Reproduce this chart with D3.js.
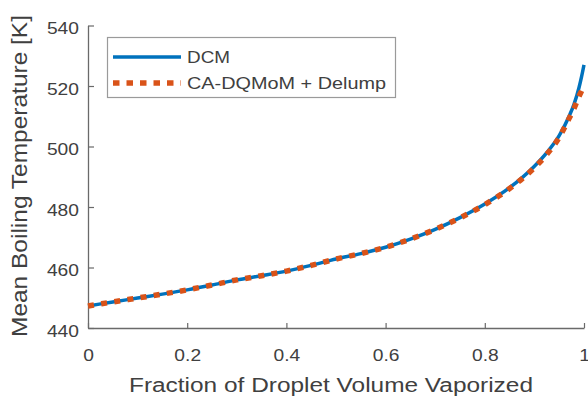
<!DOCTYPE html>
<html>
<head>
<meta charset="utf-8">
<script src="https://cdn.jsdelivr.net/npm/d3@7"></script>
<style>
  html, body { margin: 0; padding: 0; background: #fff; }
  svg { display: block; font-family: Arial, "Liberation Sans", sans-serif; }
</style>
</head>
<body>
<svg id="chart" width="588" height="398"></svg>
<script>
// Fraction of droplet volume vaporized
const fraction = [0, 0.05, 0.1, 0.15, 0.2, 0.25, 0.3, 0.35, 0.4, 0.45, 0.5, 0.55, 0.6, 0.65, 0.7, 0.75, 0.8, 0.85, 0.9, 0.925, 0.95, 0.97, 0.98, 0.99, 0.995, 1.0];
// Mean boiling temperature [K], discrete component model
const dcmTemp = [447.3, 448.6, 449.9, 451.2, 452.6, 454.2, 455.9, 457.3, 458.8, 460.7, 462.8, 464.6, 466.7, 469.4, 472.6, 476.5, 481.0, 486.4, 493.5, 498.0, 503.6, 510.0, 514.0, 519.5, 523.0, 527.0];
// Mean boiling temperature [K], CA-DQMoM with delumping
const dqmomTemp = [447.3, 448.6, 449.9, 451.2, 452.6, 454.2, 455.9, 457.3, 458.8, 460.7, 462.8, 464.6, 466.7, 469.4, 472.6, 476.4, 480.8, 486.1, 493.0, 497.4, 503.0, 509.3, 512.6, 516.6, 518.3, 520.0];

const xTicks = [0, 0.2, 0.4, 0.6, 0.8, 1];
const xTickLabels = ["0", "0.2", "0.4", "0.6", "0.8", "1"];
const yTicks = [440, 460, 480, 500, 520, 540];
const seriesNames = ["DCM", "CA-DQMoM + Delump"];

const svg = d3.select("#chart");
const textColor = "#404040";
const axisColor = "#6a6a6a";
const blue = "#0072BD";
const orange = "#D95319";

const x = d3.scaleLinear().domain([0, 1]).range([88, 584]);
const y = d3.scaleLinear().domain([440, 540]).range([328, 25.5]);

// stretch a text element horizontally by a factor
function widen(sel, k) {
  sel.each(function () {
    const w = this.getComputedTextLength();
    d3.select(this).attr("textLength", w * k).attr("lengthAdjust", "spacingAndGlyphs");
  });
}

// axes (left and bottom only, ticks pointing inward)
const xAxis = d3.axisBottom(x).tickValues(xTicks).tickSizeInner(-5).tickSizeOuter(0)
  .tickFormat((d, i) => xTickLabels[i]).tickPadding(14);
const yAxis = d3.axisLeft(y).tickValues(yTicks).tickSizeInner(-6).tickSizeOuter(0)
  .tickPadding(15);

const gx = svg.append("g").attr("transform", `translate(0,${y(440)})`).call(xAxis);
const gy = svg.append("g").attr("transform", `translate(${x(0)},0)`).call(yAxis);

[gx, gy].forEach(g => {
  g.select(".domain").attr("stroke", axisColor).attr("stroke-width", 1.3);
  g.selectAll(".tick line").attr("stroke", axisColor).attr("stroke-width", 1.2);
  g.selectAll(".tick text").attr("fill", textColor).attr("font-size", 17);
});
gx.selectAll(".tick text").attr("dy", "0.71em").attr("y", 21);
gx.selectAll(".tick text").call(widen, 1.13);
gy.selectAll(".tick text").attr("x", -9).attr("dy", "0.48em");
gy.selectAll(".tick text").call(widen, 1.13);

// axis titles
svg.append("text")
  .attr("x", 331).attr("y", 392)
  .attr("text-anchor", "middle")
  .attr("fill", textColor).attr("font-size", 20)
  .attr("textLength", 404).attr("lengthAdjust", "spacingAndGlyphs")
  .text("Fraction of Droplet Volume Vaporized");

svg.append("text")
  .attr("transform", "translate(27,176) rotate(-90)")
  .attr("text-anchor", "middle")
  .attr("fill", textColor).attr("font-size", 22.5)
  .attr("textLength", 322).attr("lengthAdjust", "spacingAndGlyphs")
  .text("Mean Boiling Temperature [K]");

// curves
const line = d3.line().x((d, i) => x(fraction[i])).y(d => y(d)).curve(d3.curveMonotoneX);

svg.append("path")
  .attr("d", line(dcmTemp))
  .attr("fill", "none").attr("stroke", blue).attr("stroke-width", 3.5);

svg.append("path")
  .attr("d", line(dqmomTemp))
  .attr("fill", "none").attr("stroke", orange).attr("stroke-width", 5.5)
  .attr("stroke-dasharray", "6,7.3");

// legend
const lg = svg.append("g");
lg.append("rect")
  .attr("x", 107.5).attr("y", 37.5).attr("width", 288).attr("height", 60)
  .attr("fill", "#fff").attr("stroke", "#9a9a9a").attr("stroke-width", 1.2);

const rows = [
  { name: seriesNames[0], color: blue, width: 3.5, dash: null, cy: 57, len: 43 },
  { name: seriesNames[1], color: orange, width: 5.5, dash: "6.5,7", cy: 83, len: 199 }
];
rows.forEach(r => {
  lg.append("line")
    .attr("x1", 113).attr("x2", 181).attr("y1", r.cy).attr("y2", r.cy)
    .attr("stroke", r.color).attr("stroke-width", r.width)
    .attr("stroke-dasharray", r.dash);
  lg.append("text")
    .attr("x", 187).attr("y", r.cy).attr("dy", "0.36em")
    .attr("fill", textColor).attr("font-size", 16.5)
    .attr("textLength", r.len).attr("lengthAdjust", "spacingAndGlyphs")
    .text(r.name);
});
</script>
</body>
</html>
